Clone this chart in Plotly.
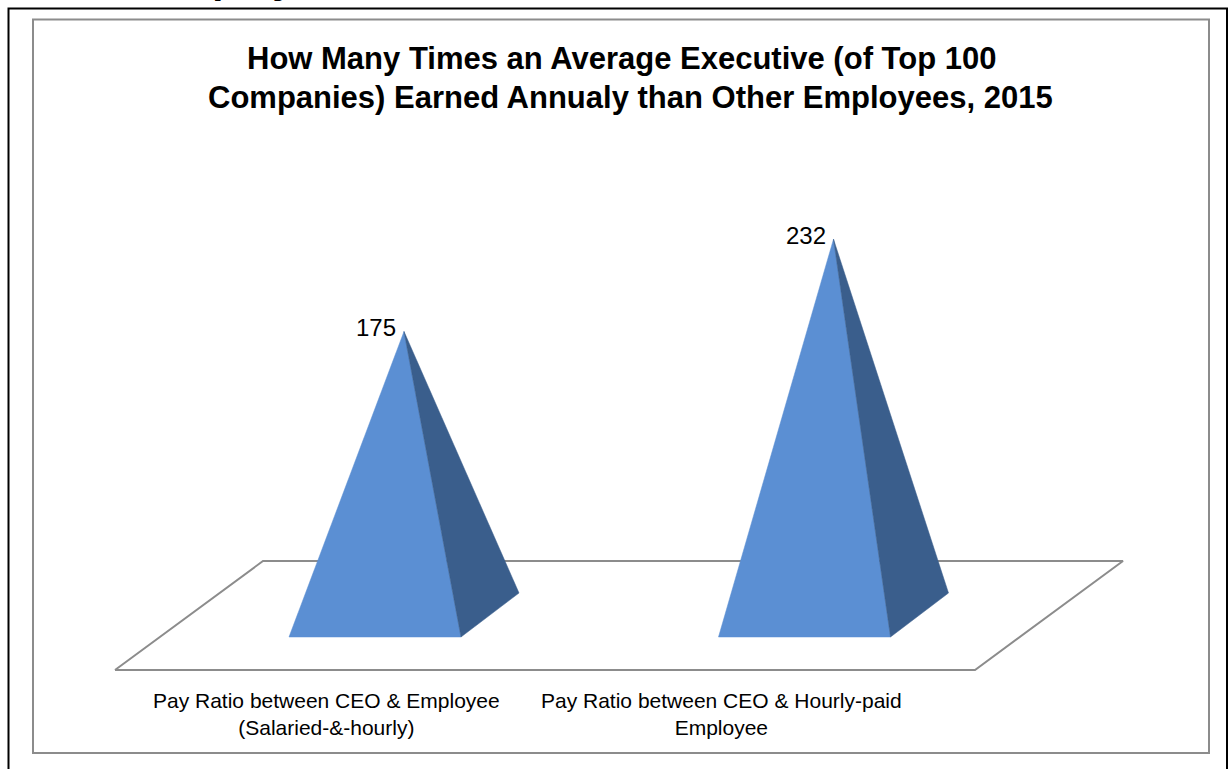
import plotly.graph_objects as go

# ---------------- data ----------------
categories = ["Pay Ratio between CEO & Employee<br>(Salaried-&-hourly)",
              "Pay Ratio between CEO & Hourly-paid<br>Employee"]
values = [175, 232]
value_labels = ["175", "232"]
title_lines = ["How Many Times an Average Executive (of Top 100",
               "Companies) Earned Annualy than Other Employees, 2015"]
clipped_heading = "Employee,"

# ---------------- styling / calibration ----------------
W, H = 1230, 769
X0, DX = 404.0, 429.5       # pixel x of category 0, pixels per category
Y0, K = 615.0, 1.62         # pixel y of value 0 (base centre), pixels per unit
x_range = [(0 - X0) / DX, (W - X0) / DX]
y_range = [(Y0 - H) / K, Y0 / K]

LIGHT = "#5B8FD3"
DARK = "#3A5E8C"
GRAY = "#8C8C8C"
FONT = "Liberation Sans, Arial, sans-serif"

HW = 86 / DX          # half base width
DEPTH_X = 58 / DX     # depth offset in x
DEPTH_Y = 44 / K      # depth offset in y


def pxx(p):
    return p / W


def pxy(p):
    return 1 - p / H


fig = go.Figure()

# floor (drawn in category / value space)
floor_x = [(115 - X0) / DX, (975 - X0) / DX, (1123 - X0) / DX, (263 - X0) / DX]
floor_y = [(Y0 - 670) / K, (Y0 - 670) / K, (Y0 - 561) / K, (Y0 - 561) / K]
fig.add_trace(go.Scatter(x=floor_x + floor_x[:1], y=floor_y + floor_y[:1],
                         mode="lines", fill="toself", fillcolor="white",
                         line=dict(color=GRAY, width=2), hoverinfo="skip"))

# pyramids
for i, v in enumerate(values):
    fl = (i - HW - DEPTH_X / 2, -DEPTH_Y / 2)
    fr = (i + HW - DEPTH_X / 2, -DEPTH_Y / 2)
    br = (i + HW + DEPTH_X / 2, DEPTH_Y / 2)
    apex = (i, v)
    fig.add_trace(go.Scatter(x=[fl[0], fr[0], apex[0], fl[0]],
                             y=[fl[1], fr[1], apex[1], fl[1]],
                             mode="lines", fill="toself", fillcolor=LIGHT,
                             line=dict(color=LIGHT, width=0.5), hoverinfo="skip"))
    fig.add_trace(go.Scatter(x=[fr[0], br[0], apex[0], fr[0]],
                             y=[fr[1], br[1], apex[1], fr[1]],
                             mode="lines", fill="toself", fillcolor=DARK,
                             line=dict(color=DARK, width=0.5), hoverinfo="skip"))

annotations = []
# value labels
for i, (v, lab) in enumerate(zip(values, value_labels)):
    annotations.append(dict(x=i, y=v, xref="x", yref="y", text=lab,
                            showarrow=False, xanchor="right", yanchor="middle",
                            xshift=-6, yshift=4,
                            font=dict(family=FONT, size=24, color="black")))
# category labels
for i, cat in enumerate(categories):
    annotations.append(dict(x=i * 0.92 - 0.18, y=(Y0 - 714) / K, xref="x", yref="y",
                            text=cat, showarrow=False, xanchor="center", yanchor="middle",
                            align="center",
                            font=dict(family=FONT, size=21, color="black")))
# title
annotations.append(dict(x=pxx(621.5), y=pxy(58.5), xref="paper", yref="paper",
                        text="<b>" + title_lines[0] + "</b>", showarrow=False,
                        xanchor="center", yanchor="middle",
                        font=dict(family=FONT, size=31, color="black")))
annotations.append(dict(x=pxx(630), y=pxy(97.5), xref="paper", yref="paper",
                        text="<b>" + title_lines[1] + "</b>", showarrow=False,
                        xanchor="center", yanchor="middle",
                        font=dict(family=FONT, size=31, color="black")))
# heading of the surrounding page, cut off at the top edge (as in the reference)
annotations.append(dict(x=pxx(148), y=pxy(-21), xref="paper", yref="paper",
                        text="<b>" + clipped_heading + "</b>", showarrow=False,
                        xanchor="left", yanchor="middle",
                        font=dict(family=FONT, size=40, color="black")))

shapes = [
    dict(type="rect", xref="paper", yref="paper",
         x0=pxx(8.5), x1=pxx(1227), y0=pxy(8.5), y1=pxy(775),
         line=dict(color="black", width=2), fillcolor="rgba(0,0,0,0)", layer="below"),
    dict(type="rect", xref="paper", yref="paper",
         x0=pxx(33), x1=pxx(1209), y0=pxy(19.5), y1=pxy(753),
         line=dict(color=GRAY, width=2), fillcolor="rgba(0,0,0,0)", layer="below"),
]

fig.update_layout(
    width=W, height=H, autosize=False,
    margin=dict(l=0, r=0, t=0, b=0, pad=0),
    paper_bgcolor="white", plot_bgcolor="white",
    showlegend=False, hovermode=False,
    xaxis=dict(range=x_range, visible=False, fixedrange=True),
    yaxis=dict(range=y_range, visible=False, fixedrange=True),
    annotations=annotations, shapes=shapes,
)

fig.write_html("out.html", config={"displayModeBar": False},
               post_script="document.body.style.margin='0';document.body.style.overflow='hidden';")
